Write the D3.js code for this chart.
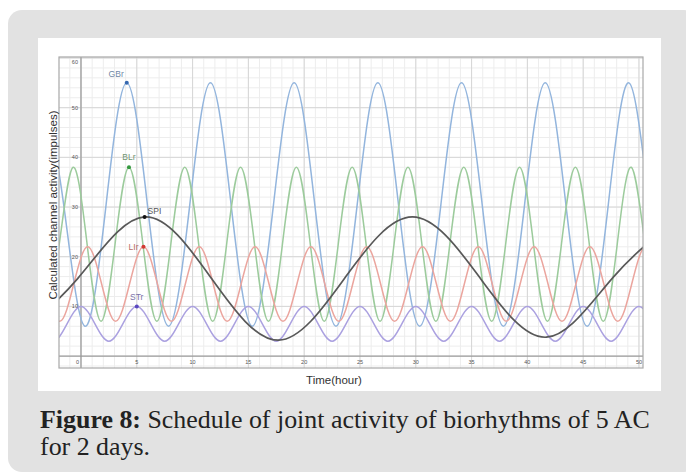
<!DOCTYPE html>
<html>
<head>
<meta charset="utf-8">
<script src="https://cdn.jsdelivr.net/npm/d3@7"></script>
<style>
  body { margin: 0; background: #fff; }
  svg { display: block; }
</style>
</head>
<body>
<svg id="chart" width="686" height="473"></svg>
<script>
// values: time in hours, activity in impulses
var names = ["GBr", "BLr", "SPI", "LIr", "STr"];

var tGBr = [-3.4,-1.55,0.35,2.25,4.1,5.95,7.85,9.75,11.6,13.45,15.35,17.25,19.1,20.95,22.85,24.75,26.6,28.45,30.35,32.25,34.1,35.95,37.85,39.75,41.6,43.45,45.35,47.25,49.1,50.95,52.85];
var vGBr = [55,30.5,6,30.5,55,30.5,6,30.5,55,30.5,6,30.5,55,30.5,6,30.5,55,30.5,6,30.5,55,30.5,6,30.5,55,30.5,6,30.5,55,30.5,6];

var tBLr = [-3.2,-1.95,-0.7,0.55,1.8,3.05,4.3,5.55,6.8,8.05,9.3,10.55,11.8,13.05,14.3,15.55,16.8,18.05,19.3,20.55,21.8,23.05,24.3,25.55,26.8,28.05,29.3,30.55,31.8,33.05,34.3,35.55,36.8,38.05,39.3,40.55,41.8,43.05,44.3,45.55,46.8,48.05,49.3,50.55,51.8];
var vBLr = [7,22.5,38,22.5,7,22.5,38,22.5,7,22.5,38,22.5,7,22.5,38,22.5,7,22.5,38,22.5,7,22.5,38,22.5,7,22.5,38,22.5,7,22.5,38,22.5,7,22.5,38,22.5,7,22.5,38,22.5,7,22.5,38,22.5,7];

var tSPI = [-6.3,-0.3,5.7,11.7,17.7,23.7,29.7,35.7,41.7,47.7,53.7];
var vSPI = [3.2,15.6,28,15.6,3.2,15.9,28,15.9,3.8,15.9,28];

var tLIr = [-3.15,-1.9,-0.65,0.6,1.85,3.1,4.35,5.6,6.85,8.1,9.35,10.6,11.85,13.1,14.35,15.6,16.85,18.1,19.35,20.6,21.85,23.1,24.35,25.6,26.85,28.1,29.35,30.6,31.85,33.1,34.35,35.6,36.85,38.1,39.35,40.6,41.85,43.1,44.35,45.6,46.85,48.1,49.35,50.6,51.85];
var vLIr = [14.5,7,14.5,22,14.5,7,14.5,22,14.5,7,14.5,22,14.5,7,14.5,22,14.5,7,14.5,22,14.5,7,14.5,22,14.5,7,14.5,22,14.5,7,14.5,22,14.5,7,14.5,22,14.5,7,14.5,22,14.5,7,14.5,22,14.5];

var tSTr = [-3.75,-2.5,-1.25,0,1.25,2.5,3.75,5,6.25,7.5,8.75,10,11.25,12.5,13.75,15,16.25,17.5,18.75,20,21.25,22.5,23.75,25,26.25,27.5,28.75,30,31.25,32.5,33.75,35,36.25,37.5,38.75,40,41.25,42.5,43.75,45,46.25,47.5,48.75,50,51.25];
var vSTr = [6.5,3,6.5,10,6.5,3,6.5,10,6.5,3,6.5,10,6.5,3,6.5,10,6.5,3,6.5,10,6.5,3,6.5,10,6.5,3,6.5,10,6.5,3,6.5,10,6.5,3,6.5,10,6.5,3,6.5,10,6.5,3,6.5,10,6.5];

// marked points (one per curve)
var markT = [4.1, 4.3, 5.7, 5.6, 5.0];
var markV = [55, 38, 28, 22, 10];

var xTicks = [0,5,10,15,20,25,30,35,40,45,50];
var yTicks = [10,20,30,40,50,60];

// styles
var lineColor = ["#93b5dd", "#9ccb9c", "#585858", "#eba59e", "#aba1e0"];
var dotColor  = ["#3568b0", "#35993f", "#111111", "#d23a32", "#5a48c0"];
var labColor  = ["#7088a6", "#719671", "#555555", "#b86b66", "#7a72a8"];
var labOff = [
  {dx: -3, dy: -6, anchor: "end"},
  {dx: 0, dy: -7, anchor: "middle"},
  {dx: 3, dy: -3, anchor: "start"},
  {dx: -5, dy: 3, anchor: "end"},
  {dx: 0, dy: -6, anchor: "middle"}
];

var svg = d3.select("#chart");

// grey panel and white picture
svg.append("rect").attr("x", 8).attr("y", 10).attr("width", 690).attr("height", 462)
   .attr("rx", 14).attr("fill", "#e2e2e2");
svg.append("rect").attr("x", 38).attr("y", 38).attr("width", 623).attr("height", 353)
   .attr("fill", "#fff");

var pL = 59, pR = 643, pT = 57, pB = 368;
var x = d3.scaleLinear().domain([-1.97, 50.36]).range([pL, pR]);
var y = d3.scaleLinear().domain([-2.4, 60.2]).range([pB, pT]);

svg.append("clipPath").attr("id", "clip")
   .append("rect").attr("x", pL).attr("y", pT).attr("width", pR - pL).attr("height", pB - pT);

var plot = svg.append("g").attr("clip-path", "url(#clip)");

// minor grid
plot.selectAll(".mgx").data(d3.range(-1, 51, 1)).enter().append("line")
    .attr("x1", function(d){ return x(d); }).attr("x2", function(d){ return x(d); })
    .attr("y1", pT).attr("y2", pB)
    .attr("stroke", "#ededed").attr("stroke-width", 1);
plot.selectAll(".mgy").data(d3.range(-2, 61, 2)).enter().append("line")
    .attr("y1", function(d){ return y(d); }).attr("y2", function(d){ return y(d); })
    .attr("x1", pL).attr("x2", pR)
    .attr("stroke", "#ededed").attr("stroke-width", 1);
// major grid
plot.selectAll(".gx").data(xTicks).enter().append("line")
    .attr("x1", function(d){ return x(d); }).attr("x2", function(d){ return x(d); })
    .attr("y1", pT).attr("y2", pB)
    .attr("stroke", "#d6d6d6").attr("stroke-width", 1);
plot.selectAll(".gy").data(yTicks).enter().append("line")
    .attr("y1", function(d){ return y(d); }).attr("y2", function(d){ return y(d); })
    .attr("x1", pL).attr("x2", pR)
    .attr("stroke", "#d6d6d6").attr("stroke-width", 1);

// axes
plot.append("line").attr("x1", pL).attr("x2", pR).attr("y1", y(0)).attr("y2", y(0))
    .attr("stroke", "#9a9a9a").attr("stroke-width", 1.2);
plot.append("line").attr("x1", x(0)).attr("x2", x(0)).attr("y1", pT).attr("y2", pB)
    .attr("stroke", "#9a9a9a").attr("stroke-width", 1.2);

// curves
var series = [[tGBr, vGBr], [tBLr, vBLr], [tSPI, vSPI], [tLIr, vLIr], [tSTr, vSTr]];
var line = d3.line()
    .x(function(d){ return x(d[0]); })
    .y(function(d){ return y(d[1]); })
    .curve(d3.curveNatural);

// draw order: blue, green, red, purple, black on top
[0, 1, 3, 4, 2].forEach(function(i){
  var pts = d3.zip(series[i][0], series[i][1]);
  plot.append("path").datum(pts)
      .attr("d", line)
      .attr("fill", "none")
      .attr("stroke", lineColor[i])
      .attr("stroke-width", i == 2 ? 1.7 : 1.5);
});

// marked points and their names
names.forEach(function(n, i){
  var px = x(markT[i]), py = y(markV[i]);
  svg.append("circle").attr("cx", px).attr("cy", py).attr("r", 2)
     .attr("fill", dotColor[i]);
  svg.append("text").attr("x", px + labOff[i].dx).attr("y", py + labOff[i].dy)
     .attr("text-anchor", labOff[i].anchor)
     .attr("font-family", "Liberation Sans, Arial, sans-serif")
     .attr("font-size", 8.5).attr("fill", labColor[i])
     .text(n);
});

// frame
svg.append("rect").attr("x", pL).attr("y", pT).attr("width", pR - pL).attr("height", pB - pT)
   .attr("fill", "none").attr("stroke", "#a8a8a8").attr("stroke-width", 1.2);

// tick labels
svg.selectAll(".xl").data(xTicks).enter().append("text")
   .attr("x", function(d){ return d == 0 ? x(d) - 2 : x(d); })
   .attr("y", y(0) + 8)
   .attr("text-anchor", function(d){ return d == 0 ? "end" : "middle"; })
   .attr("font-family", "Liberation Sans, Arial, sans-serif")
   .attr("font-size", 5.5).attr("fill", "#555")
   .text(function(d){ return d; });
svg.selectAll(".yl").data(yTicks).enter().append("text")
   .attr("x", x(0) - 3)
   .attr("y", function(d){ return Math.max(y(d) + 2, pT + 7); })
   .attr("text-anchor", "end")
   .attr("font-family", "Liberation Sans, Arial, sans-serif")
   .attr("font-size", 5.5).attr("fill", "#555")
   .text(function(d){ return d; });

// axis titles
svg.append("text").attr("x", 334).attr("y", 384)
   .attr("text-anchor", "middle")
   .attr("font-family", "Liberation Sans, Arial, sans-serif")
   .attr("font-size", 11.5).attr("fill", "#333")
   .text("Time(hour)");
svg.append("text")
   .attr("transform", "translate(57,205) rotate(-90)")
   .attr("text-anchor", "middle")
   .attr("font-family", "Liberation Sans, Arial, sans-serif")
   .attr("font-size", 11.5).attr("fill", "#333")
   .text("Calculated channel activity(impulses)");

// caption
var cap1 = svg.append("text").attr("x", 40).attr("y", 428)
   .attr("font-family", "Liberation Serif, DejaVu Serif, serif")
   .attr("font-size", 20).attr("fill", "#222");
cap1.append("tspan").attr("font-weight", "bold").text("Figure 8:");
cap1.append("tspan").text(" Schedule of joint activity of biorhythms of 5 AC");
var cap2 = svg.append("text").attr("x", 40).attr("y", 455)
   .attr("font-family", "Liberation Serif, DejaVu Serif, serif")
   .attr("font-size", 20).attr("fill", "#222")
   .text("for 2 days.");
// scale the caption so the first line spans like in the figure
var w = cap1.node().getComputedTextLength();
var fs = 20 * 610 / w;
cap1.attr("font-size", fs);
cap2.attr("font-size", fs);
</script>
</body>
</html>
